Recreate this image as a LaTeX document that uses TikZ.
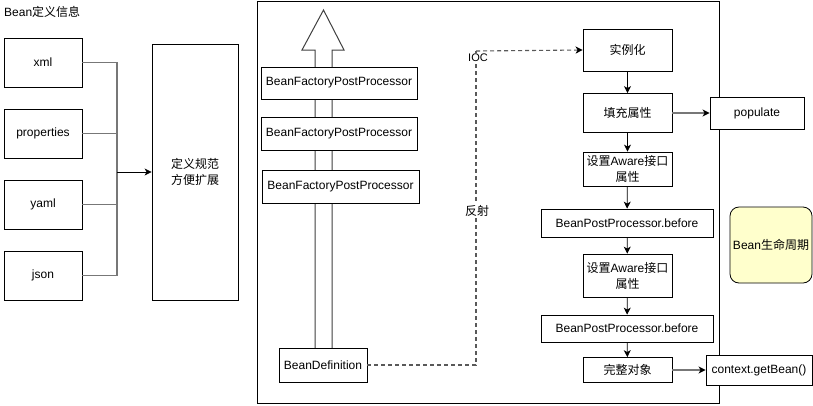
\documentclass[tikz,border=0pt]{standalone}
\usepackage{fontspec}
\setmainfont{Liberation Sans}
\newfontfamily\cjk{Noto Sans CJK SC}
\usetikzlibrary{arrows.meta}
\newcommand\zh[1]{{\cjk #1}}
\definecolor{lineg}{HTML}{777777}
\definecolor{lifey}{HTML}{FFFFCC}
\begin{document}
\begin{tikzpicture}[x=1pt,y=-1pt,font=\fontsize{12}{15}\selectfont,
  box/.style={draw=black,fill=white,line width=0.8pt,inner sep=0pt,align=center},
  gline/.style={draw=lineg,line width=1.3pt},
  arr/.style={draw=black,line width=0.8pt,-{Stealth[length=7pt,width=7pt,inset=2pt]}},
  garr/.style={draw=lineg,line width=1.3pt,-{Stealth[length=7pt,width=7pt,inset=2pt,color=black]}},
  dline/.style={draw=black!65,line width=1.1pt,dash pattern=on 4pt off 3pt},
  lbl/.style={fill=white,inner sep=1.5pt}]
\useasboundingbox (0,0) rectangle (813,405);

% left part
\node[anchor=west,inner sep=0pt] (title) at (4,12) {Bean\zh{定义信息}};
\node[box,minimum width=78,minimum height=49] (xml) at (43,62.5) {xml};
\node[box,minimum width=78,minimum height=49] (prop) at (43,133.5) {properties};
\node[box,minimum width=78,minimum height=49] (yaml) at (43,204.5) {yaml};
\node[box,minimum width=78,minimum height=49] (json) at (43,275.5) {json};
\node[box,minimum width=86,minimum height=256,font=\cjk\fontsize{12}{16}\selectfont] (def) at (195,172) {定义规范\\方便扩展};
\coordinate (join) at (117,172);
\draw[gline] (xml.east) -| (join);
\draw[gline] (prop.east) -| (join);
\draw[gline] (yaml.east) -| (join);
\draw[gline] (json.east) -| (join);
\draw[arr] (join) -- (def.west);

% container
\node[box,minimum width=462,minimum height=402] (ioc) at (488,202) {};

% hollow arrow
\draw[draw=black!75,line width=1pt,fill=white] (315,348) -- (315,50) -- (302,50) -- (323.5,10) -- (344,50) -- (332,50) -- (332,348);

\node[box,minimum width=156,minimum height=32] (bf1) at (339,83) {BeanFactoryPostProcessor};
\node[box,minimum width=156,minimum height=33] (bf2) at (339,133.5) {BeanFactoryPostProcessor};
\node[box,minimum width=157,minimum height=33] (bf3) at (340.5,186.5) {BeanFactoryPostProcessor};
\node[box,minimum width=88,minimum height=34] (bd) at (323,365) {BeanDefinition};

% right column
\node[box,minimum width=89,minimum height=42,font=\cjk\fontsize{12}{15}\selectfont] (inst) at (627.5,50) {实例化};
\node[box,minimum width=89,minimum height=39,font=\cjk\fontsize{12}{15}\selectfont] (fill) at (627.5,113) {填充属性};
\node[box,minimum width=89,minimum height=34,font=\fontsize{12}{16}\selectfont] (aw1) at (627.5,169) {\zh{设置}Aware\zh{接口}\\\zh{属性}};
\node[box,minimum width=172,minimum height=28] (bp1) at (627,223) {BeanPostProcessor.before};
\node[box,minimum width=89,minimum height=43,font=\fontsize{12}{16}\selectfont] (aw2) at (627.5,275.5) {\zh{设置}Aware\zh{接口}\\\zh{属性}};
\node[box,minimum width=172,minimum height=27] (bp2) at (627,328.5) {BeanPostProcessor.before};
\node[box,minimum width=89,minimum height=25,font=\cjk\fontsize{12}{15}\selectfont] (full) at (627.5,370) {完整对象};

\node[box,minimum width=94,minimum height=32] (pop) at (757,113) {populate};
\node[box,minimum width=106,minimum height=30] (ctx) at (759,370) {context.getBean()};
\node[box,fill=lifey,rounded corners=9pt,minimum width=82,minimum height=76] (life) at (771,245) {Bean\zh{生命周期}};

\draw[arr] (inst) -- (fill);
\draw[arr] (fill) -- (aw1);
\draw[arr] (aw1) -- (bp1);
\draw[arr] (bp1) -- (aw2);
\draw[arr] (aw2) -- (bp2);
\draw[arr] (bp2) -- (full);
\draw[garr] (fill.east) -- (pop.west);
\draw[garr] (full.east) -- (ctx.west);

% dashed IOC link
\coordinate (corner) at (476,51);
\draw[dline] (bd.east) -| (corner);
\draw[dline,-{Stealth[length=7pt,width=7pt,inset=2pt,color=black]}] (corner) -- (inst.west);
\node[lbl,font=\fontsize{11}{13}\selectfont] (ioclbl) at (478,58) {IOC};
\node[lbl,font=\cjk\fontsize{12}{14}\selectfont] (refl) at (477,211) {反射};
\end{tikzpicture}
\end{document}
